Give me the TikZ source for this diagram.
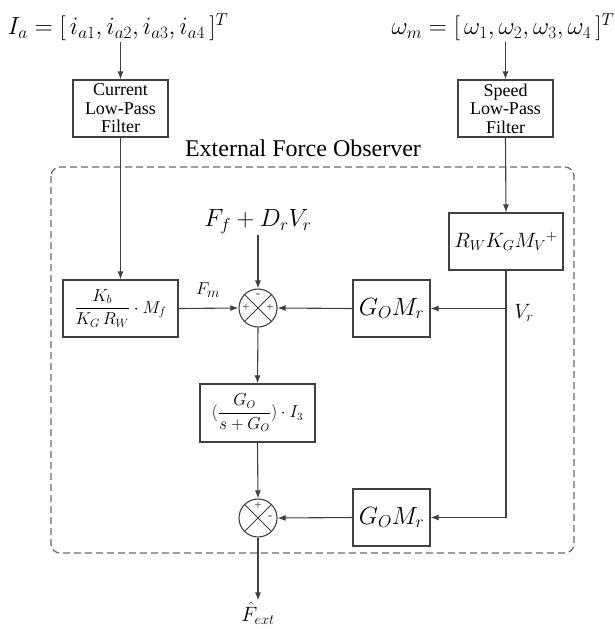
\documentclass[tikz,border=0pt]{standalone}
\usepackage{amsmath}
\usepackage{fontspec}
\setmainfont{Liberation Serif}
\usepackage{tikz}
\usetikzlibrary{positioning}
\usetikzlibrary{arrows.meta}
\usetikzlibrary{calc}

\definecolor{linegray}{HTML}{404040}
\definecolor{dashgray}{HTML}{6A6A6A}

\tikzset{
  blk/.style={draw=linegray, line width=1.1pt, inner sep=2pt, align=center},
  sumnode/.style={circle, draw=linegray, line width=1.1pt, minimum size=38pt, inner sep=0pt,
    path picture={\draw[linegray, line width=0.9pt]
      (path picture bounding box.north west) -- (path picture bounding box.south east)
      (path picture bounding box.north east) -- (path picture bounding box.south west);}},
  sig/.style={draw=linegray, line width=1.1pt, -{Latex[length=8pt,width=6pt]}},
  wire/.style={draw=linegray, line width=1.1pt},
  sgn/.style={text=linegray, inner sep=0pt, font=\fontsize{13}{13}\selectfont},
  lbl/.style={inner sep=1pt},
}

\begin{document}
\begin{tikzpicture}[x=1pt, y=-1pt]
  \useasboundingbox (0,0) rectangle (615,629);

  % inputs
  \node[lbl] (ia) at (118,27) {\fontsize{23}{26}\selectfont $I_a=[\,i_{a1},i_{a2},i_{a3},i_{a4}\,]^T$};
  \node[lbl] (wm) at (503,27) {\fontsize{23}{26}\selectfont $\omega_m=[\,\omega_1,\omega_2,\omega_3,\omega_4\,]^T$};

  % filters
  \node[blk, minimum width=95pt, minimum height=57pt, font=\fontsize{18}{18.5}\selectfont]
    (clpf) at (120.5,108.5) {Current\\Low-Pass\\Filter};
  \node[blk, minimum width=95pt, minimum height=57pt, font=\fontsize{18}{18.5}\selectfont]
    (slpf) at (505.5,108.5) {Speed\\Low-Pass\\Filter};

  % observer frame
  \draw[dashgray, line width=1.3pt, dash pattern=on 7pt off 4pt, rounded corners=9pt]
    (51,167) rectangle (574,553);
  \node[lbl, font=\fontsize{24}{26}\selectfont] (efo) at (303,148) {External Force Observer};

  % blocks
  \node[blk, minimum width=115pt, minimum height=57pt] (kbox) at (120.5,308.5)
    {\fontsize{17}{20}\selectfont $\dfrac{K_b}{K_G\,R_W}\cdot M_f$};
  \node[blk, minimum width=114pt, minimum height=57pt] (rwbox) at (506,241.5)
    {\fontsize{21}{24}\selectfont $R_W K_G M_V{}^{+}$};
  \node[blk, minimum width=77pt, minimum height=57pt] (gom1) at (391.5,308.5)
    {\fontsize{23}{26}\selectfont $G_O M_r$};
  \node[blk, minimum width=77pt, minimum height=57pt] (gom2) at (391.5,517.5)
    {\fontsize{23}{26}\selectfont $G_O M_r$};
  \node[blk, minimum width=115pt, minimum height=58pt] (gobox) at (257.5,413)
    {\fontsize{16}{19}\selectfont $(\dfrac{G_O}{s+G_O})\cdot I_3$};

  % summing junctions
  \node[sumnode] (s1) at (258,308) {};
  \node[sumnode] (s2) at (258,518) {};
  \node[sgn] at ($(s1.center)+(0,-12)$) {-};
  \node[sgn] at ($(s1.center)+(-12,0)$) {+};
  \node[sgn] at ($(s1.center)+(12,0)$) {+};
  \node[sgn] at ($(s2.center)+(0,-12)$) {+};
  \node[sgn] at ($(s2.center)+(12,0)$) {-};

  % other labels
  \node[lbl, font=\fontsize{23}{26}\selectfont] (ffd) at (258,222) {$F_f+D_rV_r$};
  \node[lbl, font=\fontsize{19}{22}\selectfont] (fm) at (208,290) {$F_m$};
  \node[lbl, font=\fontsize{20}{22}\selectfont] (vrl) at (524,313) {$V_r$};
  \node[lbl, font=\fontsize{20}{22}\selectfont] (fext) at (258,613) {$\hat{F}_{ext}$};
  \coordinate (vr) at (506,308.5);
  \coordinate (vrlow) at (506,517.5);

  % connections
  \draw[sig] (ia.south -| clpf.north) -- (clpf.north);
  \draw[sig] (wm.south -| slpf.north) -- (slpf.north);
  \draw[sig] (clpf.south) -- (kbox.north);
  \draw[sig] (slpf.south) -- (rwbox.north);
  \draw[sig] (kbox.east) -- (s1.west);
  \draw[sig] (ffd.south) -- (s1.north);
  \draw[wire] (rwbox.south) -- (vr);
  \draw[sig] (vr) -- (gom1.east);
  \draw[sig] (vr) -- (vrlow) -- (gom2.east);
  \draw[sig] (gom1.west) -- (s1.east);
  \draw[sig] (s1.south) -- (gobox.north);
  \draw[sig] (gobox.south) -- (s2.north);
  \draw[sig] (gom2.west) -- (s2.east);
  \draw[sig] (s2.south) -- (fext.north);
\end{tikzpicture}
\end{document}
